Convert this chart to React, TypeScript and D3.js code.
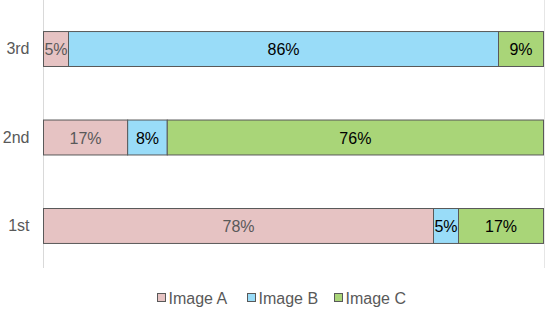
import * as d3 from "d3";
import React from "react";

const categories = ["1st", "2nd", "3rd"];
const seriesNames = ["Image A", "Image B", "Image C"];
const imageA = [78, 17, 5];
const imageB = [5, 8, 86];
const imageC = [17, 76, 9];
const colors = ["#e6c3c3", "#99dcf8", "#a9d578"];
const labelColors = ["#595959", "#000000", "#000000"];

const width = 550;
const height = 312;
const margin = { left: 43, right: 6 };

export default function App() {
  const rows = categories.map((c, i) => ({
    cat: c,
    "Image A": imageA[i],
    "Image B": imageB[i],
    "Image C": imageC[i],
  }));
  // 100% stacked
  const stacked = d3
    .stack<any>()
    .keys(seriesNames)
    .offset(d3.stackOffsetExpand)(rows);

  const x = d3
    .scaleLinear()
    .domain([0, 1])
    .range([margin.left, width - margin.right - 1]);
  const y = d3
    .scaleBand()
    .domain([...categories].reverse())
    .range([4.5, 269.5])
    .paddingInner(0.605)
    .paddingOuter(0.3);

  const font = "Liberation Sans, Arial, sans-serif";
  const legendX = [157, 247, 334];

  return (
    <svg
      width={width}
      height={height}
      style={{ position: "absolute", left: 0, top: 0, background: "#fff" }}
      fontFamily={font}
    >
      <line x1={margin.left + 0.5} x2={margin.left + 0.5} y1={0} y2={268} stroke="#d9d9d9" />
      <line x1={x(1) + 1.5} x2={x(1) + 1.5} y1={0} y2={268} stroke="#e6e6e6" />

      {categories.map((c) => (
        <text
          key={c}
          x={29.5}
          y={(y(c) as number) + y.bandwidth() / 2}
          dy="0.35em"
          textAnchor="end"
          fontSize={16}
          fill="#595959"
        >
          {c}
        </text>
      ))}

      {stacked.map((s, si) => (
        <g key={s.key}>
          {s.map((d, i) => {
            const x0 = x(d[0]);
            const x1 = x(d[1]);
            const yy = y(d.data.cat) as number;
            const val = [imageA, imageB, imageC][si][i];
            return (
              <g key={i}>
                <rect
                  x={x0 + 0.5}
                  y={yy + 0.5}
                  width={x1 - x0}
                  height={y.bandwidth()}
                  fill={colors[si]}
                  stroke="#595959"
                  strokeWidth={1}
                />
                <text
                  x={(x0 + x1) / 2 + 0.5}
                  y={yy + y.bandwidth() / 2 + 1}
                  dy="0.35em"
                  textAnchor="middle"
                  fontSize={16}
                  fill={labelColors[si]}
                >
                  {val}%
                </text>
              </g>
            );
          })}
        </g>
      ))}

      {seriesNames.map((n, i) => (
        <g key={n} transform={`translate(${legendX[i]},298)`}>
          <rect x={0.5} y={-4.5} width={8} height={8} fill={colors[i]} stroke="#595959" />
          <text x={11.5} y={0} dy="0.35em" fontSize={16} fill="#595959">
            {n}
          </text>
        </g>
      ))}
    </svg>
  );
}
